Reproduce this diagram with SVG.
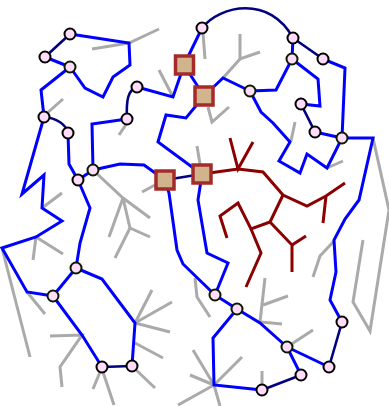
<svg xmlns="http://www.w3.org/2000/svg" width="389" height="406" viewBox="0 0 389 406">
<style>
.g{fill:none;stroke:#aaaaaa;stroke-width:3;stroke-linecap:butt;stroke-linejoin:miter}
.r{fill:none;stroke:#8b0000;stroke-width:3;stroke-linejoin:miter}
.b{fill:none;stroke:#0000ff;stroke-width:3;stroke-linejoin:miter}
.n{fill:none;stroke:#000080;stroke-width:2.6}
.c{fill:#ffddfa;stroke:#000000;stroke-width:2}
.j{fill:#ffddfa;stroke:#0a1a00;stroke-width:2}
.s{fill:#d2b48c;stroke:#a52a2a;stroke-width:3.5}
</style>
<rect width="389" height="406" fill="#ffffff"/>
<g id="connectors">
<g id="gray">
<polyline class="g" points="92,49 129,43 159,29"/>
<polyline class="g" points="159,70 173,97"/>
<polyline class="g" points="63,99 45,115"/>
<polyline class="g" points="127,123 119,135"/>
<polyline class="g" points="203,33 205,59"/>
<polyline class="g" points="240,34 240,59 260,52"/>
<polyline class="g" points="240,59 223,78"/>
<polyline class="g" points="208,107 212,122 229,107"/>
<polyline class="g" points="197,146 200,164"/>
<polyline class="g" points="295,122 291,141"/>
<polyline class="g" points="327,168 343,161"/>
<polyline class="g" points="373,138 389,210 370,331 353,302 363,240"/>
<polyline class="g" points="334,241 320,256 313,277"/>
<polyline class="g" points="93,170 123,198 150,218"/>
<polyline class="g" points="123,198 109,237"/>
<polyline class="g" points="123,198 130,228 150,237"/>
<polyline class="g" points="130,228 115,258"/>
<polyline class="g" points="142,192 155,185"/>
<polyline class="g" points="62,193 42,208"/>
<polyline class="g" points="36,237 33,260"/>
<polyline class="g" points="36,237 63,254"/>
<polyline class="g" points="2,248 30,357"/>
<polyline class="g" points="27,292 45,314"/>
<polyline class="g" points="50,336 82,335 60,367 62,387"/>
<polyline class="g" points="100,372 93,389"/>
<polyline class="g" points="103,372 114,405"/>
<polyline class="g" points="135,323 152,290"/>
<polyline class="g" points="135,323 172,302"/>
<polyline class="g" points="135,323 170,332"/>
<polyline class="g" points="135,343 163,358"/>
<polyline class="g" points="132,366 155,388"/>
<polyline class="g" points="195,278 197,297 210,317"/>
<polyline class="g" points="265,278 260,322 282,324"/>
<polyline class="g" points="263,305 288,296"/>
<polyline class="g" points="287,347 313,330"/>
<polyline class="g" points="262,371 262,390"/>
<polyline class="g" points="214,385 193,350"/>
<polyline class="g" points="214,385 190,375"/>
<polyline class="g" points="214,385 242,357"/>
<polyline class="g" points="214,385 178,405"/>
<polyline class="g" points="214,385 220,406"/>
</g>
<g id="red">
<polyline class="r" points="202,174 238,169 263,172 283,195 307,206 326,196 345,183"/>
<polyline class="r" points="230,138 238,169 253,142"/>
<polyline class="r" points="326,196 323,223"/>
<polyline class="r" points="283,195 270,222 292,245 292,272"/>
<polyline class="r" points="292,245 306,236"/>
<polyline class="r" points="270,222 251,229 238,203 220,216 227,238"/>
<polyline class="r" points="251,229 261,253 246,287"/>
</g>
<g id="blue">
<polyline class="b" points="70,34 129,43 130,65 113,77 103,97 85,88 70,67"/>
<polyline class="b" points="45,57 70,67"/>
<polyline class="b" points="70,67 41,90 44,117"/>
<polyline class="b" points="44,117 22,194 44,175 42,208 62,221 36,237 2,248 27,292 53,296"/>
<polyline class="b" points="68,133 69,164 78,180"/>
<polyline class="b" points="78,180 93,170"/>
<polyline class="b" points="78,180 90,208 80,243 76,268"/>
<polyline class="b" points="93,170 92,124 127,119"/>
<polyline class="b" points="137,87 173,97 184,65"/>
<polyline class="b" points="93,170 120,164 144,165 165,180"/>
<polyline class="b" points="184,65 202,28"/>
<polyline class="b" points="184,65 204,96"/>
<polyline class="b" points="204,96 186,118 166,115 158,142 192,167 202,174"/>
<polyline class="b" points="204,96 223,78 250,91"/>
<polyline class="b" points="250,91 276,90 292,59"/>
<polyline class="b" points="250,91 261,112 273,123 290,142 279,161 300,173 307,154 327,168 342,138"/>
<polyline class="b" points="292,59 293,38"/>
<polyline class="b" points="292,59 318,79 320,106 301,104"/>
<polyline class="b" points="315,132 342,138"/>
<polyline class="b" points="323,59 345,68 342,138"/>
<polyline class="b" points="342,138 373,138 359,200 345,219 334,240 336,272 330,300 342,322"/>
<polyline class="b" points="329,367 287,347"/>
<polyline class="b" points="287,347 301,375"/>
<polyline class="b" points="262,390 214,385 213,338 237,309"/>
<polyline class="b" points="237,309 260,323 287,347"/>
<polyline class="b" points="215,295 237,309"/>
<polyline class="b" points="202,174 198,200 207,253 228,263 215,295"/>
<polyline class="b" points="165,180 169,193 177,250 183,264 215,295"/>
<polyline class="b" points="76,268 53,296"/>
<polyline class="b" points="76,268 102,279 135,323 132,366"/>
<polyline class="b" points="53,296 82,335 102,367"/>
</g>
<g id="navy">
<path class="n" d="M70,34 L45,57"/>
<path class="n" d="M44,117 C56,118 66,124 68,133"/>
<path class="n" d="M127,119 C126,100 128,90 137,87"/>
<path class="n" d="M202,28 C220,5 270,-5 293,38"/>
<path class="n" d="M293,38 L323,59"/>
<path class="n" d="M301,104 L315,132"/>
<path class="n" d="M165,180 L202,174"/>
<path class="n" d="M342,322 L329,367"/>
<path class="n" d="M301,375 L262,390"/>
<path class="n" d="M102,367 L132,366"/>
</g>
</g>
<g id="n1"><circle class="c" cx="70" cy="34" r="5.5"/></g>
<g id="n2"><circle class="c" cx="45" cy="57" r="5.5"/></g>
<g id="n3"><circle class="j" cx="70" cy="67" r="5.5"/></g>
<g id="n4"><circle class="c" cx="137" cy="87" r="5.5"/></g>
<g id="n5"><circle class="c" cx="44" cy="117" r="5.5"/></g>
<g id="n6"><circle class="c" cx="68" cy="133" r="5.5"/></g>
<g id="n7"><circle class="c" cx="127" cy="119" r="5.5"/></g>
<g id="n8"><circle class="j" cx="93" cy="170" r="5.5"/></g>
<g id="n9"><circle class="c" cx="78" cy="180" r="5.5"/></g>
<g id="n10"><circle class="c" cx="202" cy="28" r="5.5"/></g>
<g id="n11"><circle class="c" cx="293" cy="38" r="5.5"/></g>
<g id="n12"><circle class="j" cx="292" cy="59" r="5.5"/></g>
<g id="n13"><circle class="c" cx="323" cy="59" r="5.5"/></g>
<g id="n14"><circle class="j" cx="250" cy="91" r="5.5"/></g>
<g id="n15"><circle class="c" cx="301" cy="104" r="5.5"/></g>
<g id="n16"><circle class="c" cx="315" cy="132" r="5.5"/></g>
<g id="n17"><circle class="j" cx="342" cy="138" r="5.5"/></g>
<g id="n18"><circle class="j" cx="76" cy="268" r="5.5"/></g>
<g id="n19"><circle class="j" cx="53" cy="296" r="5.5"/></g>
<g id="n20"><circle class="c" cx="102" cy="367" r="5.5"/></g>
<g id="n21"><circle class="c" cx="132" cy="366" r="5.5"/></g>
<g id="n22"><circle class="j" cx="215" cy="295" r="5.5"/></g>
<g id="n23"><circle class="j" cx="237" cy="309" r="5.5"/></g>
<g id="n24"><circle class="j" cx="287" cy="347" r="5.5"/></g>
<g id="n25"><circle class="c" cx="342" cy="322" r="5.5"/></g>
<g id="n26"><circle class="c" cx="329" cy="367" r="5.5"/></g>
<g id="n27"><circle class="c" cx="301" cy="375" r="5.5"/></g>
<g id="n28"><circle class="c" cx="262" cy="390" r="5.5"/></g>
<g id="s1"><rect class="s" x="175.5" y="56" width="18" height="18"/></g>
<g id="s2"><rect class="s" x="195" y="87" width="18" height="18"/></g>
<g id="s3"><rect class="s" x="156" y="171" width="18" height="18"/></g>
<g id="s4"><rect class="s" x="193" y="165" width="18" height="18"/></g>
</svg>
